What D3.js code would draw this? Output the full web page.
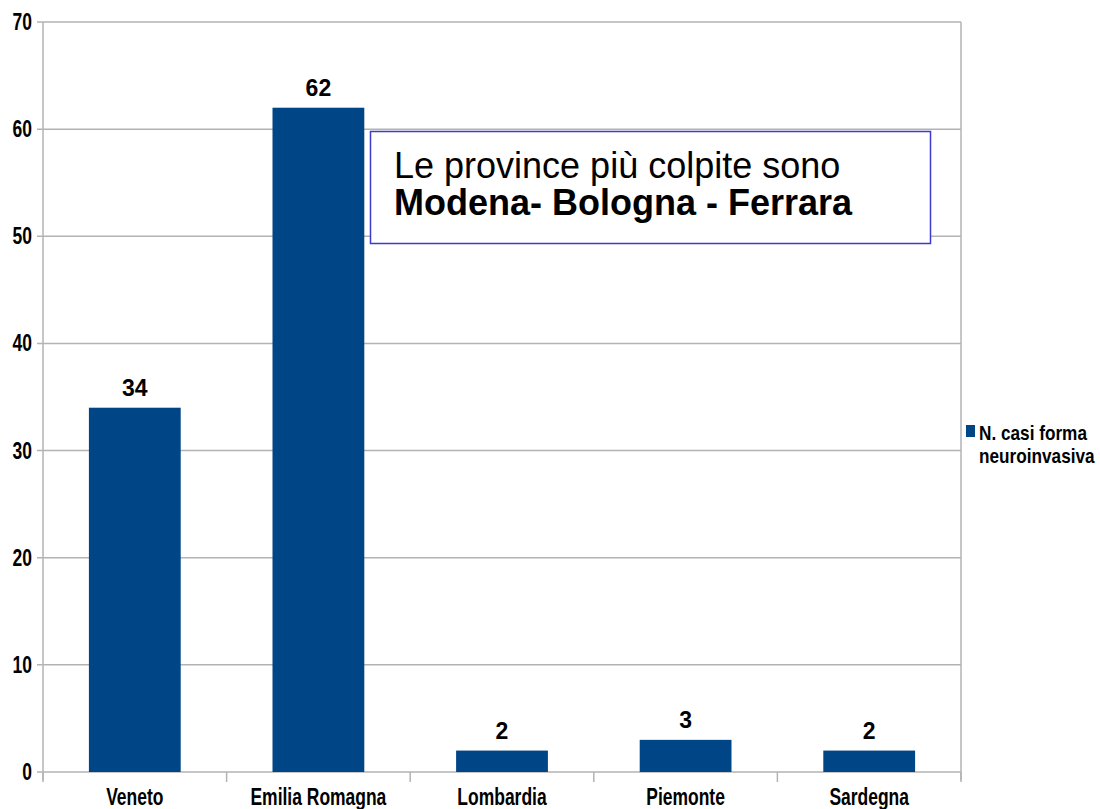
<!DOCTYPE html>
<html lang="en">
<head>
<meta charset="UTF-8">
<title>N. casi forma neuroinvasiva</title>
<style>
    body { margin: 0; background: #fff; }
    svg { display: block; }
    .narrow { font-family: "Liberation Sans", Arial, sans-serif; font-weight: bold; fill: #000; }
    .val { font-family: "Liberation Sans", Arial, sans-serif; font-weight: bold; font-size: 23px; fill: #000; }
    .note { font-family: "Liberation Sans", Arial, sans-serif; font-size: 36px; fill: #000; }
</style>
<script src="https://d3js.org/d3.v7.min.js"></script>
</head>
<body>
<svg id="chart" width="1100" height="809"></svg>
<script>
    // data
    const regions = ["Veneto", "Emilia Romagna", "Lombardia", "Piemonte", "Sardegna"];
    const cases = [34, 62, 2, 3, 2];
    const yTicks = [0, 10, 20, 30, 40, 50, 60, 70];
    const seriesName = ["N. casi forma", "neuroinvasiva"];
    const noteLines = ["Le province più colpite sono", "Modena- Bologna - Ferrara"];

    const svg = d3.select("#chart");
    const plotLeft = 43, plotRight = 961, plotTop = 22, plotBottom = 772;
    const barColor = "#004586", gridColor = "#b3b3b3";
    const squeeze = 0.76; // narrow bold look of the original labels

    const x = d3.scaleBand().domain(regions).range([plotLeft, plotRight])
        .paddingInner(0.5).paddingOuter(0.25);
    const y = d3.scaleLinear().domain([0, 70]).range([plotBottom, plotTop]);

    // gridlines
    svg.append("g").selectAll("line").data(yTicks).enter().append("line")
        .attr("x1", plotLeft - 6).attr("x2", plotRight)
        .attr("y1", d => y(d)).attr("y2", d => y(d))
        .attr("stroke", gridColor).attr("stroke-width", 1.5);

    // y axis line + right border
    svg.append("line").attr("x1", plotLeft).attr("x2", plotLeft)
        .attr("y1", plotTop).attr("y2", plotBottom + 8)
        .attr("stroke", gridColor).attr("stroke-width", 1.5);
    svg.append("line").attr("x1", plotRight).attr("x2", plotRight)
        .attr("y1", plotTop).attr("y2", plotBottom + 8)
        .attr("stroke", gridColor).attr("stroke-width", 1.5);

    svg.append("g").selectAll("text").data(yTicks).enter().append("text")
        .attr("class", "narrow")
        .attr("transform", d => `translate(32,${y(d) + 8}) scale(${squeeze},1)`)
        .attr("text-anchor", "end").attr("font-size", 23)
        .text(d => d);

    // x axis category separators
    const bounds = d3.range(regions.length + 1).map(i => plotLeft + i * (plotRight - plotLeft) / regions.length);
    svg.append("g").selectAll("line").data(bounds).enter().append("line")
        .attr("x1", d => d).attr("x2", d => d)
        .attr("y1", plotBottom).attr("y2", plotBottom + 10)
        .attr("stroke", gridColor).attr("stroke-width", 1.5);

    svg.append("g").selectAll("text").data(regions).enter().append("text")
        .attr("class", "narrow")
        .attr("transform", d => `translate(${x(d) + x.bandwidth() / 2},805) scale(${squeeze},1)`)
        .attr("text-anchor", "middle").attr("font-size", 23)
        .text(d => d);

    // bars
    svg.append("g").selectAll("rect").data(cases).enter().append("rect")
        .attr("x", (d, i) => x(regions[i]))
        .attr("y", d => y(d))
        .attr("width", x.bandwidth())
        .attr("height", d => y(0) - y(d))
        .attr("fill", barColor);

    // value labels
    svg.append("g").selectAll("text").data(cases).enter().append("text")
        .attr("class", "val")
        .attr("x", (d, i) => x(regions[i]) + x.bandwidth() / 2)
        .attr("y", d => y(d) - 12)
        .attr("text-anchor", "middle")
        .text(d => d);

    // annotation box
    svg.append("rect")
        .attr("x", 370.5).attr("y", 131.5).attr("width", 560).attr("height", 112)
        .attr("fill", "#fff").attr("stroke", "#3b3bd0").attr("stroke-width", 1.5);
    svg.append("text").attr("class", "note").attr("x", 394).attr("y", 178).text(noteLines[0]);
    svg.append("text").attr("class", "note").attr("x", 394).attr("y", 215)
        .attr("font-weight", "bold").text(noteLines[1]);

    // legend
    const legend = svg.append("g");
    legend.append("rect").attr("x", 966).attr("y", 425).attr("width", 9).attr("height", 12)
        .attr("fill", barColor);
    legend.selectAll("text").data(seriesName).enter().append("text")
        .attr("class", "narrow")
        .attr("transform", (d, i) => `translate(979,${440 + i * 23}) scale(0.86,1)`)
        .attr("font-size", 20)
        .text(d => d);
</script>
</body>
</html>
